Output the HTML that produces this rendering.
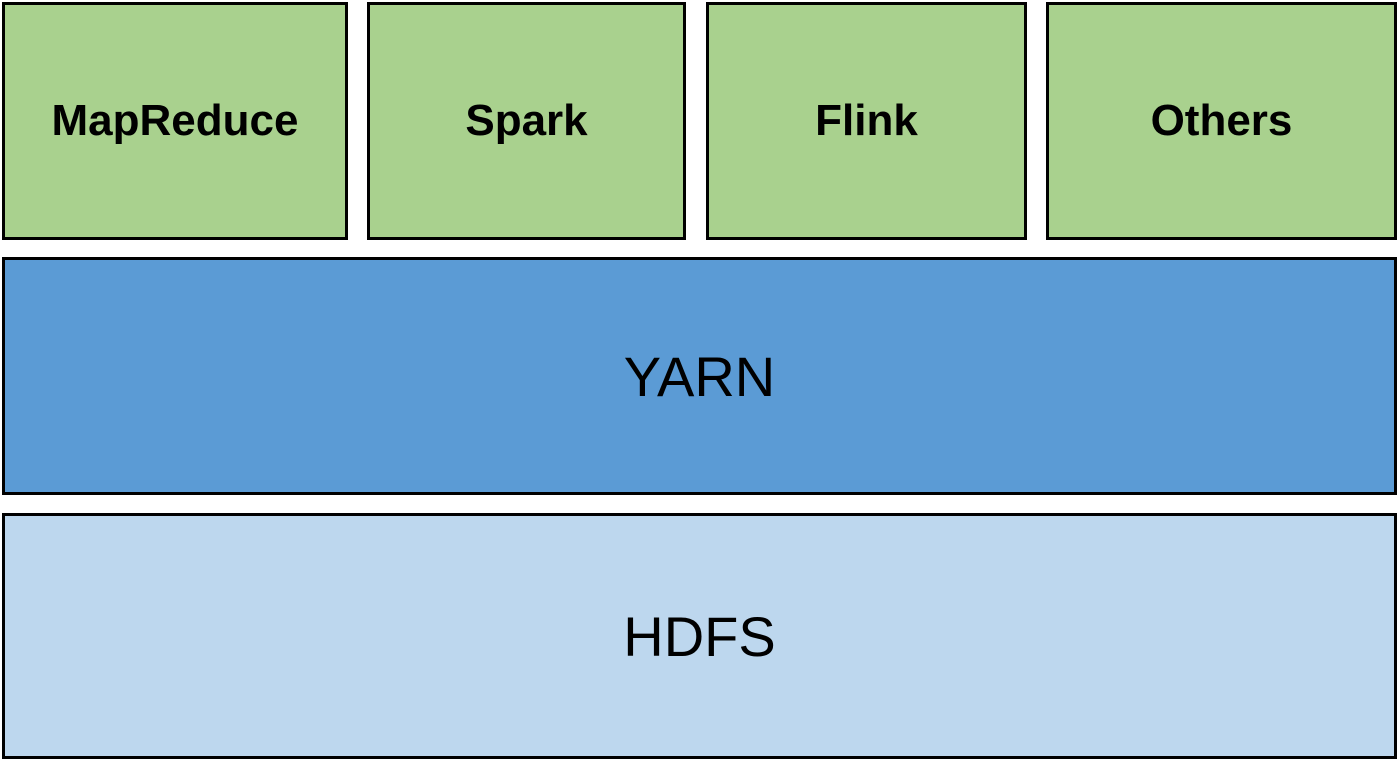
<!DOCTYPE html>
<html><head><style>
body{margin:0;width:1397px;height:760px;background:#fff;position:relative;overflow:hidden;font-family:"Liberation Sans",sans-serif}
.b{position:absolute;box-sizing:border-box;border:3px solid #000;display:flex;align-items:center;justify-content:center;color:#000}
.g{background:#A9D18E;font-weight:bold;font-size:44px}
</style></head><body>
<div class="b g" style="left:2px;top:2px;width:346px;height:238px">MapReduce</div>
<div class="b g" style="left:367px;top:2px;width:319px;height:238px">Spark</div>
<div class="b g" style="left:706px;top:2px;width:321px;height:238px">Flink</div>
<div class="b g" style="left:1046px;top:2px;width:351px;height:238px">Others</div>
<div class="b" style="left:2px;top:257px;width:1395px;height:238px;background:#5B9BD5;font-size:56px">YARN</div>
<div class="b" style="left:2px;top:513px;width:1395px;height:246px;background:#BDD7EE;font-size:56px">HDFS</div>
</body></html>
